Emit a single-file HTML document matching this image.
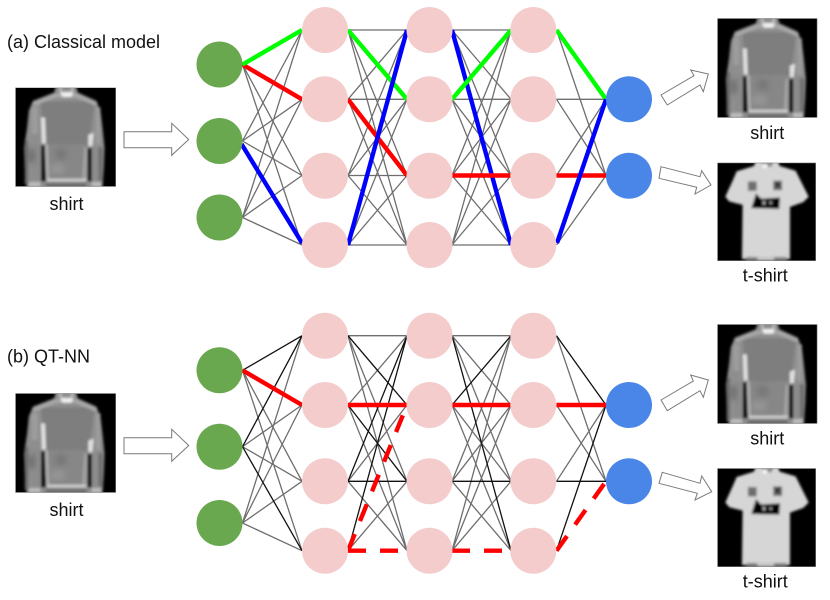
<!DOCTYPE html>
<html><head><meta charset="utf-8"><style>
html,body{margin:0;padding:0;background:#fff}
svg{display:block}
#root{filter:blur(.3px)}
text{font-family:"Liberation Sans",Arial,sans-serif;font-size:18px;fill:#111}
.g{fill:none;stroke:#555;stroke-width:1.3;stroke-opacity:.85}
.k{fill:none;stroke:#111;stroke-width:1.3}
.c{fill:none;stroke-width:4.4}
.d{fill:none;stroke:#f00;stroke-width:4.4;stroke-dasharray:18 14}
.a{fill:#fff;stroke:#7a7a7a;stroke-width:1}
</style></head><body>
<svg id="root" width="830" height="600" viewBox="0 0 830 600" xmlns="http://www.w3.org/2000/svg">
<defs>
<filter id="b" x="-10%" y="-10%" width="120%" height="120%"><feGaussianBlur stdDeviation="4"/></filter>
<filter id="b2" x="-30%" y="-30%" width="160%" height="160%"><feGaussianBlur stdDeviation="9"/></filter>
<g id="shirt">
<rect x="10" y="10" width="298" height="298" fill="#000"/>
<g filter="url(#b)">
<polygon points="130,6 190,6 195,25 250,50 262,80 268,130 274,190 272,250 268,312 44,312 38,250 36,190 45,130 50,80 62,50 125,25" fill="#8e8e8e"/>
<polygon points="85,52 245,52 232,150 222,190 215,290 105,290 98,180 90,100" fill="#7e7e7e"/>
<polygon points="100,180 220,180 214,290 106,290" fill="#878787"/>
<polyline points="64,60 130,34 190,34 250,60" fill="none" stroke="#a8a8a8" stroke-width="11"/>
<rect x="248" y="70" width="14" height="110" fill="#9c9c9c"/>
<rect x="58" y="70" width="18" height="80" fill="#9c9c9c"/>
<rect x="38" y="170" width="10" height="130" fill="#6a6a6a"/>
<rect x="64" y="180" width="18" height="110" fill="#8c8c8c"/>
<rect x="240" y="190" width="12" height="100" fill="#8c8c8c"/>
<rect x="256" y="190" width="12" height="100" fill="#6e6e6e"/>
<polygon points="86,184 97,184 101,292 86,292" fill="#000"/>
<polygon points="224,192 236,192 236,292 224,292" fill="#000"/>
<polygon points="86,100 98,100 101,178 89,178" fill="#e0e0e0"/>
<polygon points="226,152 242,146 238,186 226,186" fill="#e0e0e0"/>
<polygon points="99,180 106,180 110,288 103,288" fill="#b4b4b4"/>
<polygon points="214,190 222,190 218,288 208,288" fill="#a4a4a4"/>
<rect x="104" y="284" width="116" height="8" fill="#d0d0d0"/>
<polygon points="142,24 182,24 176,38 150,38" fill="#f0f0f0"/>
<rect x="140" y="8" width="8" height="14" fill="#bbb"/><rect x="174" y="8" width="8" height="14" fill="#bbb"/>
<rect x="50" y="294" width="34" height="14" fill="#bbb"/><rect x="236" y="294" width="28" height="14" fill="#bbb"/>
<rect x="100" y="298" width="120" height="10" fill="#666"/>
</g>
<g filter="url(#b2)" opacity=".55">
<rect x="130" y="195" width="30" height="30" fill="#6a6a6a"/>
<rect x="115" y="240" width="40" height="30" fill="#a0a0a0"/>
<rect x="50" y="195" width="16" height="40" fill="#4c4c4c"/>
</g>
<rect x="10.5" y="10.5" width="297" height="297" fill="none" stroke="#999" stroke-width="2"/>
</g>
<g id="tee">
<rect x="10" y="10" width="296" height="294" fill="#000"/>
<g filter="url(#b)">
<polygon points="125,6 192,6 197,20 245,34 262,68 284,112 268,128 228,142 228,298 84,298 86,136 46,126 34,112 56,64 68,36 120,20" fill="#d6d6d6"/>
<polygon points="140,6 180,6 172,22 150,22" fill="#8a8a8a"/>
<rect x="146" y="14" width="14" height="12" fill="#f6f6f6"/>
<rect x="102" y="66" width="26" height="28" fill="#6e6e6e"/>
<rect x="178" y="64" width="26" height="28" fill="#5e5e5e"/>
<rect x="186" y="70" width="10" height="12" fill="#222"/>
<polygon points="112,146 126,102 142,118 198,114 196,148" fill="#000"/>
<rect x="146" y="124" width="8" height="12" fill="#aaa"/><rect x="166" y="126" width="8" height="8" fill="#999"/>
<rect x="96" y="292" width="122" height="12" fill="#808080"/>
<rect x="130" y="292" width="50" height="12" fill="#c4c4c4"/>
</g>
<rect x="10.5" y="10.5" width="295" height="293" fill="none" stroke="#999" stroke-width="2"/>
</g>
</defs>
<rect width="830" height="600" fill="#fff"/>

<!-- (a) lines -->
<path class="g" d="M242.5 64.5L302 175.5M242.5 64.5L302 245M242.5 141L302 30M242.5 141L302 99.3M242.5 141L302 175.5M242.5 217.5L302 30M242.5 217.5L302 99.3M242.5 217.5L302 175.5M242.5 217.5L302 245"/>
<path class="g" d="M348 30L407 30M348 30L407 175.5M348 30L407 245M348 99.3L407 30M348 99.3L407 99.3M348 99.3L407 245M348 175.5L407 30M348 175.5L407 99.3M348 175.5L407 175.5M348 175.5L407 245M348 245L407 99.3M348 245L407 175.5M348 245L407 245"/>
<path class="g" d="M452 30L511 30M452 30L511 99.3M452 30L511 175.5M452 99.3L511 99.3M452 99.3L511 175.5M452 99.3L511 245M452 175.5L511 30M452 175.5L511 99.3M452 175.5L511 245M452 245L511 30M452 245L511 99.3M452 245L511 175.5M452 245L511 245"/>
<path class="g" d="M556.5 30L606 175.5M556.5 99.3L606 99.3M556.5 99.3L606 175.5M556.5 175.5L606 99.3M556.5 245L606 175.5"/>
<g class="c">
<path stroke="#f00" d="M242.5 64.5L302 99.3"/>
<path stroke="#0f0" d="M242.5 64.5L302 30"/>
<path stroke="#00f" d="M241.5 144L302 243"/>
<path stroke="#0f0" d="M348 30L407 99.3"/>
<path stroke="#f00" d="M348 99.3L407 175.5"/>
<path stroke="#00f" d="M348 245L407 30"/>
<path stroke="#00f" d="M452 30L511 245"/>
<path stroke="#0f0" d="M452 99.3L511 30"/>
<path stroke="#f00" d="M452 175.5L511 175.5"/>
<path stroke="#0f0" d="M556.5 30L606 99.3"/>
<path stroke="#f00" d="M556.5 175.5L606 175.5"/>
<path stroke="#00f" d="M557 243L606 99.3"/>
</g>

<!-- (b) lines -->
<path class="g" d="M242.5 370.3L302 481.3M242.5 370.3L302 550.7M242.5 446.7L302 405M242.5 446.7L302 481.3M242.5 523L302 335.7M242.5 523L302 405M242.5 523L302 481.3M242.5 523L302 550.7"/>
<path class="k" d="M242.5 370.3L302 335.7M242.5 446.7L302 335.7M242.5 446.7L302 550.7"/>
<path class="g" d="M348 335.7L407 335.7M348 335.7L407 481.3M348 335.7L407 550.7M348 405L407 335.7M348 405L407 550.7M348 481.3L407 405M348 481.3L407 550.7M348 550.7L407 481.3"/>
<path class="k" d="M348 335.7L407 405M348 405L407 481.3M348 481.3L407 335.7M348 550.7L407 335.7M348 481.3L407 481.3"/>
<path class="g" d="M452 335.7L511 335.7M452 335.7L511 405M452 335.7L511 481.3M452 405L511 481.3M452 405L511 550.7M452 481.3L511 335.7M452 481.3L511 405M452 481.3L511 550.7M452 550.7L511 335.7M452 550.7L511 405M452 550.7L511 481.3"/>
<path class="k" d="M452 405L511 335.7M452 335.7L511 550.7M452 481.3L511 481.3"/>
<path class="g" d="M556.5 335.7L606 481.3M556.5 405L606 481.3M556.5 481.3L606 405"/>
<path class="k" d="M556.5 335.7L606 405M556.5 550.7L606 405M556.5 481.3L606 481.3"/>
<g class="c" stroke="#f00">
<path d="M242.5 370.3L302 405"/>
<path d="M348 405L407 405"/>
<path d="M452 405L511 405"/>
<path d="M556.5 405L606 405"/>
</g>
<path class="d" d="M348 550.7L407 405"/>
<path class="d" d="M348 550.7L407 550.7"/>
<path class="d" d="M452 550.7L511 550.7"/>
<path class="d" d="M556.5 550.7L606 481.3"/>

<!-- nodes (a) -->
<g fill="#6aa84f"><circle cx="219.5" cy="64.5" r="23"/><circle cx="219.5" cy="141" r="23"/><circle cx="219.5" cy="217.5" r="23"/></g>
<g fill="#f4cccc">
<circle cx="325" cy="30" r="23"/><circle cx="325" cy="99.3" r="23"/><circle cx="325" cy="175.7" r="23"/><circle cx="325" cy="245" r="23"/>
<circle cx="429.5" cy="30" r="23"/><circle cx="429.5" cy="99.3" r="23"/><circle cx="429.5" cy="175.7" r="23"/><circle cx="429.5" cy="245" r="23"/>
<circle cx="533.3" cy="30" r="23"/><circle cx="533.3" cy="99.3" r="23"/><circle cx="533.3" cy="175.7" r="23"/><circle cx="533.3" cy="245" r="23"/>
</g>
<g fill="#4a86e8"><circle cx="629" cy="99.3" r="23"/><circle cx="629" cy="175.7" r="23"/></g>

<!-- nodes (b) -->
<g fill="#6aa84f"><circle cx="219.5" cy="370.3" r="23"/><circle cx="219.5" cy="446.7" r="23"/><circle cx="219.5" cy="523" r="23"/></g>
<g fill="#f4cccc">
<circle cx="325" cy="335.7" r="23"/><circle cx="325" cy="405" r="23"/><circle cx="325" cy="481.3" r="23"/><circle cx="325" cy="550.7" r="23"/>
<circle cx="429.5" cy="335.7" r="23"/><circle cx="429.5" cy="405" r="23"/><circle cx="429.5" cy="481.3" r="23"/><circle cx="429.5" cy="550.7" r="23"/>
<circle cx="533.3" cy="335.7" r="23"/><circle cx="533.3" cy="405" r="23"/><circle cx="533.3" cy="481.3" r="23"/><circle cx="533.3" cy="550.7" r="23"/>
</g>
<g fill="#4a86e8"><circle cx="629" cy="405" r="23"/><circle cx="629" cy="481.3" r="23"/></g>

<!-- arrows -->
<polygon class="a" points="124,131.7 171.7,131.7 171.7,123.3 188.7,139.5 171.7,155.3 171.7,147.7 124,147.7"/>
<polygon class="a" points="124,437.7 171.7,437.7 171.7,429.3 188.7,445.5 171.7,461.3 171.7,453.7 124,453.7"/>
<polygon class="a" points="661,95 694,75.7 690.7,70 708.3,74 703.3,91.7 700,85 667.3,105"/>
<polygon class="a" points="661,166.7 700,176.7 701.7,170.7 711,185 695,194 696.7,187.3 659,178.3"/>
<polygon class="a" points="661,400 693.3,381 690.7,375 708.3,380 703.3,397.3 700,390.7 667.3,410.7"/>
<polygon class="a" points="662.3,472.3 700,483.3 701.7,476 711.7,491.7 695,500 697.3,493.3 659,483.3"/>

<!-- images -->
<svg x="15.3" y="87.5" width="100.7" height="99.2" viewBox="10 10 298 298" preserveAspectRatio="none"><use href="#shirt"/></svg>
<svg x="15.3" y="393.3" width="100.7" height="99.4" viewBox="10 10 298 298" preserveAspectRatio="none"><use href="#shirt"/></svg>
<svg x="717.3" y="18.3" width="100" height="99.4" viewBox="10 10 298 298" preserveAspectRatio="none"><use href="#shirt"/></svg>
<svg x="717.3" y="324.3" width="100" height="99.4" viewBox="10 10 298 298" preserveAspectRatio="none"><use href="#shirt"/></svg>
<svg x="717.3" y="162.7" width="98.7" height="98.3" viewBox="10 10 296 294" preserveAspectRatio="none"><use href="#tee"/></svg>
<svg x="717.3" y="468.3" width="98.7" height="98.7" viewBox="10 10 296 294" preserveAspectRatio="none"><use href="#tee"/></svg>

<!-- labels -->
<text x="7" y="48">(a) Classical model</text>
<text x="7" y="362.7">(b) QT-NN</text>
<text x="66.5" y="210" text-anchor="middle">shirt</text>
<text x="66.5" y="516" text-anchor="middle">shirt</text>
<text x="767.3" y="139" text-anchor="middle">shirt</text>
<text x="765.3" y="281.7" text-anchor="middle">t-shirt</text>
<text x="767.3" y="444.3" text-anchor="middle">shirt</text>
<text x="765.3" y="587.7" text-anchor="middle">t-shirt</text>
</svg>
</body></html>
